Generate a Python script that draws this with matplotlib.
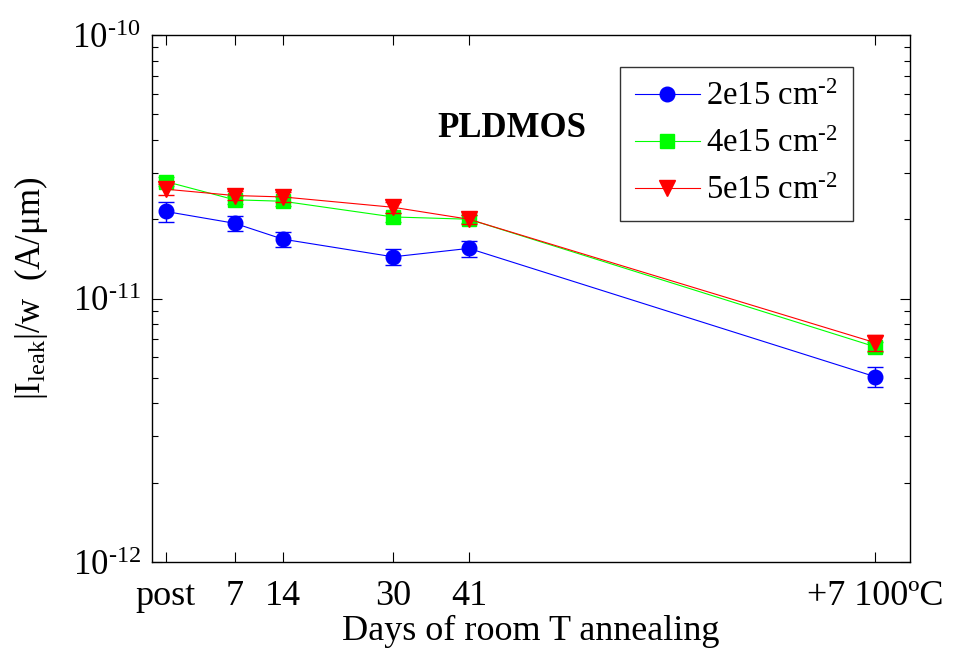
import numpy as np
import matplotlib.pyplot as plt
import matplotlib.ticker as ticker

plt.rcParams['font.family'] = ['Liberation Serif', 'DejaVu Serif']
plt.rcParams['mathtext.fontset'] = 'custom'
plt.rcParams['mathtext.rm'] = 'Liberation Serif'
plt.rcParams['mathtext.it'] = 'Liberation Serif'
plt.rcParams['mathtext.bf'] = 'Liberation Serif:bold'

# annealing steps (post-irradiation placed at -3, the 100 C step at 100)
days = [-3, 7, 14, 30, 41, 100]
day_labels = ['post', '7', '14', '30', '41', '+7 100ºC']

# leakage current per width (A/um)
i_2e15 = [2.14e-11, 1.93e-11, 1.68e-11, 1.44e-11, 1.55e-11, 5.05e-12]
i_4e15 = [2.78e-11, 2.37e-11, 2.34e-11, 2.04e-11, 2.00e-11, 6.56e-12]
i_5e15 = [2.60e-11, 2.46e-11, 2.43e-11, 2.22e-11, 2.00e-11, 6.80e-12]

err_2e15 = [0.18e-11, 0.13e-11, 0.11e-11, 0.10e-11, 0.11e-11, 0.045e-11]
err_4e15 = [0.10e-11, 0.09e-11, 0.09e-11, 0.08e-11, 0.07e-11, 0.03e-11]
err_5e15 = [0.12e-11, 0.10e-11, 0.10e-11, 0.10e-11, 0.08e-11, 0.048e-11]

fig = plt.figure(figsize=(9.59, 6.49), dpi=100)
ax = fig.add_axes([0.1585, 0.134, 0.79, 0.812])

series = [
    (i_2e15, err_2e15, (0, 0, 1), 'o', 10.5, r'2e15 cm$^{\text{-2}}$'),
    (i_4e15, err_4e15, (0, 1, 0), 's', 9.5, r'4e15 cm$^{\text{-2}}$'),
    (i_5e15, err_5e15, (1, 0, 0), 'v', 11, r'5e15 cm$^{\text{-2}}$'),
]
for vals, errs, col, mk, ms, lab in series:
    ax.errorbar(days, vals, yerr=errs, fmt='none', ecolor=col,
                elinewidth=1.0, capsize=6, capthick=1.0)
    ax.plot(days, vals, color=col, marker=mk, markersize=ms, linewidth=0.8,
            markeredgecolor=col, label=lab)

ax.set_yscale('log')
ax.set_ylim(1e-12, 1e-10)
ax.set_xlim(-5, 105)
ax.set_xticks(days)
ax.set_xticklabels(day_labels)
ax.xaxis.set_minor_locator(ticker.NullLocator())
ax.yaxis.set_major_formatter(ticker.FuncFormatter(
    lambda v, p: r'$10^{\text{%d}}$' % round(np.log10(v))))
ax.yaxis.set_minor_formatter(ticker.NullFormatter())

ax.tick_params(which='both', direction='in', top=True, right=True)
ax.tick_params(which='major', length=7, width=0.8)
ax.tick_params(which='minor', length=4, width=0.8)
ax.tick_params(axis='x', labelsize=26, pad=13)
ax.tick_params(axis='y', labelsize=25, pad=8)
for s in ax.spines.values():
    s.set_linewidth(1.0)

ax.set_xlabel('Days of room T annealing', fontsize=26, labelpad=1)
ax.set_ylabel(r'|I$_{\text{leak}}$|/w  (A/μm)', fontsize=25)
ax.yaxis.set_label_coords(-0.134, 0.52)

ax.text(0.4755, 0.8235, 'PLDMOS', transform=ax.transAxes, fontsize=25,
        fontweight='bold', ha='center', va='center')

leg = ax.legend(loc='upper right', bbox_to_anchor=(0.9247, 0.939),
                fontsize=23.5, frameon=True, fancybox=False, edgecolor='black',
                handlelength=2.0, borderpad=0.45, labelspacing=0.5,
                handletextpad=0.2, borderaxespad=0, numpoints=1)
leg.get_frame().set_linewidth(1.0)

fig.savefig('out.png', dpi=100)
